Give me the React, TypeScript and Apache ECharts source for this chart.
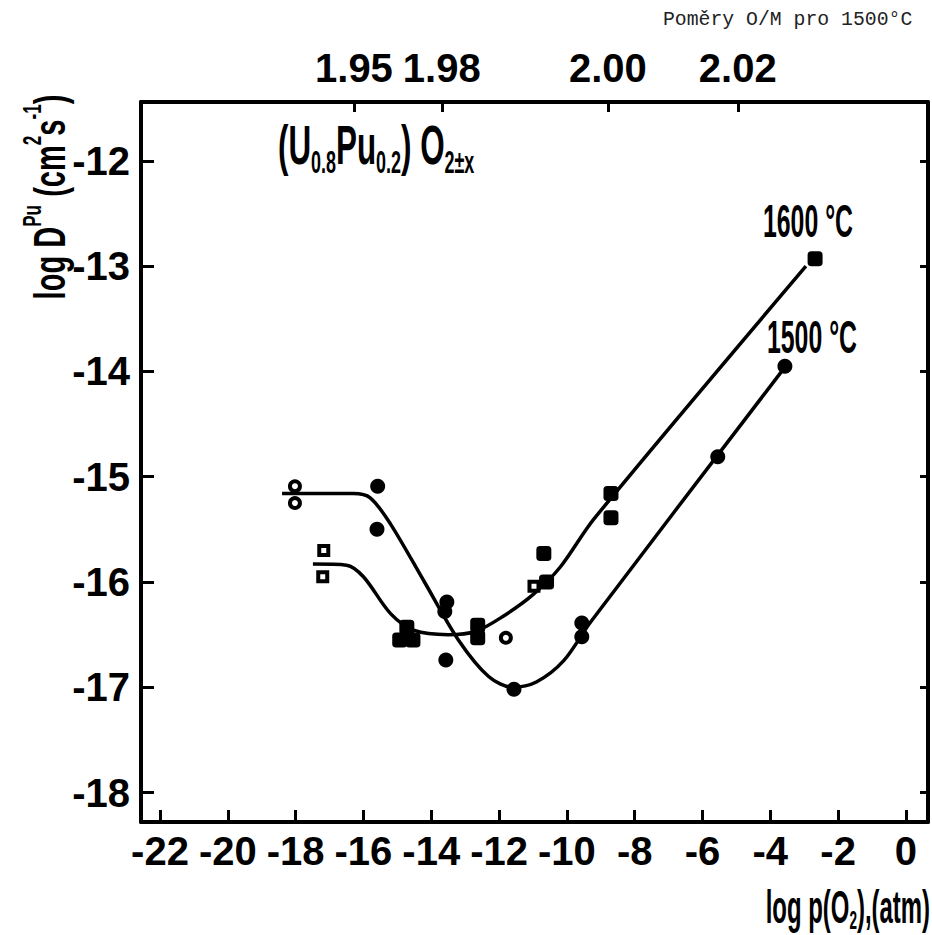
import React, { useEffect, useRef } from 'react';
import * as echarts from 'echarts';

// ---- axis ranges / ticks ----
const X_MIN = -22.56;
const X_MAX = 0.65;
const Y_MIN = -18.28;
const Y_MAX = -11.44;
const xTicks = [-22, -20, -18, -16, -14, -12, -10, -8, -6, -4, -2, 0];
const yTicks = [-18, -17, -16, -15, -14, -13, -12];
// top axis: O/M ratios for 1500 °C at given log p(O2)
const omLabels = ['1.95', '1.98', '2.00', '2.02'];
const omPositions = [-16.28, -13.69, -8.79, -4.96];

// ---- fitted curves ----
const curve1600: number[][] = [
  [-17.49, -15.83], [-16.5, -15.84], [-16.0, -15.95], [-15.2, -16.3], [-14.5, -16.46],
  [-13.5, -16.5], [-12.7, -16.47], [-11.9, -16.33], [-11.0, -16.12], [-10.2, -15.86],
  [-9.2, -15.4], [-2.95, -13.0],
];
const curve1500: number[][] = [
  [-18.4, -15.16], [-16.3, -15.16], [-15.8, -15.2], [-15.2, -15.45], [-14.2, -16.0],
  [-13.2, -16.55], [-12.3, -16.9], [-11.6, -17.0], [-10.9, -16.95], [-10.1, -16.75],
  [-9.3, -16.38], [-3.62, -13.98],
];

// ---- measured points ----
const filledSquares1600: number[][] = [
  [-14.93, -16.55], [-14.72, -16.43], [-14.54, -16.55], [-12.63, -16.41], [-12.63, -16.53],
  [-10.68, -15.73], [-10.6, -16.0], [-8.7, -15.16], [-8.7, -15.39], [-2.68, -12.93],
];
const openSquares1600: number[][] = [[-17.17, -15.7], [-17.2, -15.95], [-10.97, -16.04]];
const filledCircles1500: number[][] = [
  [-15.58, -15.09], [-15.6, -15.5], [-13.54, -16.19], [-13.6, -16.28], [-13.57, -16.74],
  [-11.56, -17.02], [-9.56, -16.39], [-9.56, -16.52], [-5.55, -14.81], [-3.57, -13.95],
];
const openCircles1500: number[][] = [[-18.02, -15.09], [-18.02, -15.25], [-11.8, -16.53]];

const FONT = "'Liberation Sans', Arial, sans-serif";
const MONO = "'Liberation Mono', 'DejaVu Sans Mono', monospace";

export default function App() {
  const ref = useRef<HTMLDivElement>(null);
  useEffect(() => {
    const chart = echarts.init(ref.current as HTMLDivElement, null, { renderer: 'svg' });
    const labelStyle = {
      color: '#000', fontFamily: FONT, fontWeight: 'bold' as const, fontSize: 40,
      showMinLabel: true, showMaxLabel: true, hideOverlap: false,
    };
    const axisLine = { show: true, onZero: false, lineStyle: { color: '#000', width: 4 } };
    const tickLine = { color: '#000', width: 3 };
    const bold = (size: number, extra: any = {}) => ({
      fontSize: size, fontFamily: FONT, fontWeight: 'bold', fill: '#000', color: '#000', verticalAlign: 'middle', ...extra,
    });

    chart.setOption({
      animation: false,
      backgroundColor: '#fff',
      grid: { left: 141, right: 4, top: 102, bottom: 113, containLabel: false, outerBoundsMode: 'none' },
      xAxis: [
        {
          type: 'value', position: 'bottom', min: X_MIN, max: X_MAX,
          splitLine: { show: false }, axisLine,
          axisTick: { show: true, inside: true, length: 12, customValues: xTicks, lineStyle: tickLine },
          axisLabel: { show: true, customValues: xTicks, margin: 9, ...labelStyle, formatter: (v: number) => String(v) },
        },
        {
          type: 'value', position: 'top', min: X_MIN, max: X_MAX,
          splitLine: { show: false }, axisLine,
          axisTick: { show: true, inside: true, length: 10, customValues: omPositions, lineStyle: tickLine },
          axisLabel: {
            show: true, customValues: omPositions, margin: 14, ...labelStyle,
            formatter: (v: number) => {
              let best = 0;
              omPositions.forEach((p, i) => { if (Math.abs(p - v) < Math.abs(omPositions[best] - v)) best = i; });
              return omLabels[best];
            },
          },
        },
      ],
      yAxis: [
        {
          type: 'value', position: 'left', min: Y_MIN, max: Y_MAX,
          splitLine: { show: false }, axisLine,
          axisTick: { show: true, inside: true, length: 13, customValues: yTicks, lineStyle: tickLine },
          axisLabel: { show: true, customValues: yTicks, margin: 11, ...labelStyle, formatter: (v: number) => String(v) },
        },
        {
          type: 'value', position: 'right', min: Y_MIN, max: Y_MAX,
          splitLine: { show: false }, axisLine,
          axisTick: { show: true, inside: true, length: 8, customValues: yTicks, lineStyle: tickLine },
          axisLabel: { show: false },
        },
      ],
      series: [
        {
          type: 'line', name: '1600 °C', data: curve1600, showSymbol: false, smooth: 0.3,
          lineStyle: { color: '#000', width: 3.5 }, z: 2,
        },
        {
          type: 'line', name: '1500 °C', data: curve1500, showSymbol: false, smooth: 0.3,
          lineStyle: { color: '#000', width: 3.5 }, z: 2,
        },
        {
          type: 'scatter', data: filledSquares1600, symbol: 'roundRect', symbolSize: 15,
          itemStyle: { color: '#000', opacity: 1 }, z: 3,
        },
        {
          type: 'scatter', data: openSquares1600, symbol: 'rect', symbolSize: 9,
          itemStyle: { color: '#fff', borderColor: '#000', borderWidth: 4, opacity: 1 }, z: 4,
        },
        {
          type: 'scatter', data: filledCircles1500, symbol: 'circle', symbolSize: 15,
          itemStyle: { color: '#000', opacity: 1 }, z: 3,
        },
        {
          type: 'scatter', data: openCircles1500, symbol: 'circle', symbolSize: 10,
          itemStyle: { color: '#fff', borderColor: '#000', borderWidth: 4, opacity: 1 }, z: 4,
        },
      ],
      graphic: [
        {
          type: 'text', x: 663, y: 20, z: 10,
          style: { text: 'Poměry O/M pro 1500°C', fontSize: 19.8, fontFamily: MONO, fill: '#222', textAlign: 'left', textVerticalAlign: 'middle' },
        },
        {
          type: 'text', x: 763, y: 221, scaleX: 0.54, z: 10,
          style: { text: '1600 °C', ...bold(46), textAlign: 'left', textVerticalAlign: 'middle' },
        },
        {
          type: 'text', x: 767, y: 337, scaleX: 0.54, z: 10,
          style: { text: '1500 °C', ...bold(46), textAlign: 'left', textVerticalAlign: 'middle' },
        },
        {
          type: 'text', x: 278, y: 115, scaleX: 0.56, z: 10,
          style: {
            text: '{b|(U}{s|0.8}{b|Pu}{s|0.2}{b|) O}{s|2±x}',
            textAlign: 'left', textVerticalAlign: 'top',
            rich: {
              b: bold(56, { lineHeight: 60 }),
              s: bold(32, { lineHeight: 20, padding: [33, 0, 0, 0] }),
            },
          },
        },
        {
          type: 'text', x: 50, y: 197, rotation: Math.PI / 2, scaleX: 0.66, z: 10,
          style: {
            text: '{b|log D}{p|Pu}{b| (cm}{p|2}{b|s}{p|-1}{b|)}',
            textAlign: 'center', textVerticalAlign: 'middle',
            rich: {
              b: bold(44, { lineHeight: 48 }),
              p: bold(26, { lineHeight: 20, padding: [0, 0, 36, 0] }),
            },
          },
        },
        {
          type: 'text', x: 930, y: 884, scaleX: 0.52, z: 10,
          style: {
            text: '{b|log p(O}{s|2}{b|),(atm)}',
            textAlign: 'right', textVerticalAlign: 'top',
            rich: {
              b: bold(46, { lineHeight: 46 }),
              s: bold(26, { lineHeight: 20, padding: [26, 0, 0, 0] }),
            },
          },
        },
      ],
    });
    return () => chart.dispose();
  }, []);
  return <div ref={ref} style={{ position: 'fixed', left: 0, top: 0, width: 932, height: 935, background: '#fff' }} />;
}
